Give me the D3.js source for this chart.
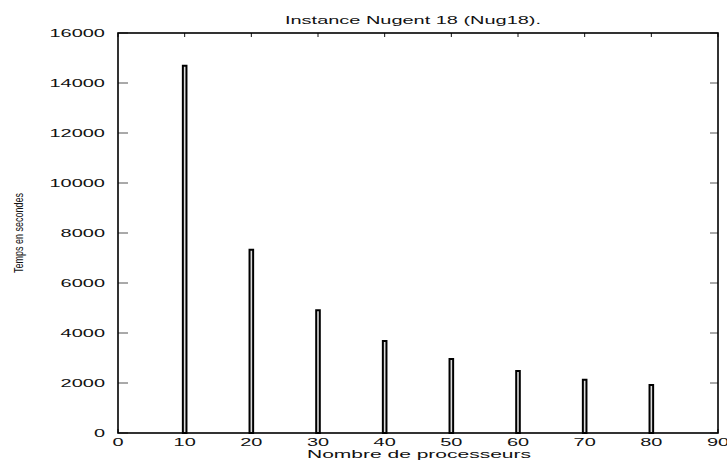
<!DOCTYPE html>
<html>
<head>
<meta charset="utf-8">
<script src="https://cdn.jsdelivr.net/npm/d3@7"></script>
<style>
  html, body { margin: 0; padding: 0; background: #fff; }
  svg { display: block; }
  text { font-family: "Liberation Sans", Arial, Helvetica, sans-serif; fill: #111; }
</style>
</head>
<body>
<svg id="chart" width="727" height="462"></svg>
<script>
// Execution time per processor count, Nugent 18 instance
const processors = [10, 20, 30, 40, 50, 60, 70, 80];
const seconds = [14690, 7330, 4910, 3680, 2960, 2480, 2130, 1920];
const xTicks = [0, 10, 20, 30, 40, 50, 60, 70, 80, 90];
const yTicks = [0, 2000, 4000, 6000, 8000, 10000, 12000, 14000, 16000];
const title = "Instance Nugent 18 (Nug18).";
const xLabel = "Nombre de processeurs";
const yLabel = "Temps en secondes";

const svg = d3.select("#chart");
const m = { left: 118, right: 718, top: 33, bottom: 433 };

const x = d3.scaleLinear().domain([0, 90]).range([m.left, m.right]);
const y = d3.scaleLinear().domain([0, 16000]).range([m.bottom, m.top]);

// Stretch a text element horizontally by a factor of its natural width
function widen(sel, factor) {
  sel.each(function () {
    const w = this.getComputedTextLength();
    d3.select(this).attr("textLength", w * factor).attr("lengthAdjust", "spacingAndGlyphs");
  });
}

// Tick marks (inward, mirrored on all four sides)
const ticks = svg.append("g").attr("stroke", "#555").attr("stroke-width", 1);
ticks.selectAll("line.yl").data(yTicks).join("line")
  .attr("x1", m.left).attr("x2", m.left + 10)
  .attr("y1", d => y(d)).attr("y2", d => y(d));
ticks.selectAll("line.yr").data(yTicks).join("line")
  .attr("x1", m.right - 8).attr("x2", m.right)
  .attr("y1", d => y(d)).attr("y2", d => y(d));
ticks.selectAll("line.xt").data(xTicks).join("line")
  .attr("x1", d => x(d)).attr("x2", d => x(d))
  .attr("y1", m.top).attr("y2", m.top + 4).attr("stroke", "#111");
ticks.selectAll("line.xb").data(xTicks).join("line")
  .attr("x1", d => x(d)).attr("x2", d => x(d))
  .attr("y1", m.bottom).attr("y2", m.bottom - 4).attr("stroke", "#111");

// Bars
svg.append("g").selectAll("rect").data(processors).join("rect")
  .attr("x", d => x(d) - 1.8)
  .attr("width", 3.6)
  .attr("y", (d, i) => y(seconds[i]))
  .attr("height", (d, i) => y(0) - y(seconds[i]))
  .attr("fill", "#ddd")
  .attr("stroke", "#000")
  .attr("stroke-width", 2);

// Frame
svg.append("rect")
  .attr("x", m.left).attr("y", m.top)
  .attr("width", m.right - m.left).attr("height", m.bottom - m.top)
  .attr("fill", "none").attr("stroke", "#000").attr("stroke-width", 1.6);

// Y tick labels
const yl = svg.append("g").selectAll("text").data(yTicks).join("text")
  .attr("x", 105).attr("y", d => y(d))
  .attr("dy", "0.36em")
  .attr("text-anchor", "end")
  .attr("font-size", 10.5)
  .text(d => d);
widen(yl, 1.9);

// X tick labels
const xl = svg.append("g").selectAll("text").data(xTicks).join("text")
  .attr("x", d => x(d)).attr("y", 446)
  .attr("text-anchor", "middle")
  .attr("font-size", 10.5)
  .text(d => d);
widen(xl, 1.9);

// Title
svg.append("text")
  .attr("x", 413).attr("y", 24)
  .attr("text-anchor", "middle")
  .attr("font-size", 11)
  .attr("textLength", 256).attr("lengthAdjust", "spacingAndGlyphs")
  .text(title);

// Axis titles
svg.append("text")
  .attr("x", 419).attr("y", 458)
  .attr("text-anchor", "middle")
  .attr("font-size", 11.5)
  .attr("textLength", 224).attr("lengthAdjust", "spacingAndGlyphs")
  .text(xLabel);

svg.append("text")
  .attr("transform", "translate(23,233) rotate(-90)")
  .attr("text-anchor", "middle")
  .attr("font-size", 13.5)
  .attr("textLength", 80).attr("lengthAdjust", "spacingAndGlyphs")
  .text(yLabel);
</script>
</body>
</html>
